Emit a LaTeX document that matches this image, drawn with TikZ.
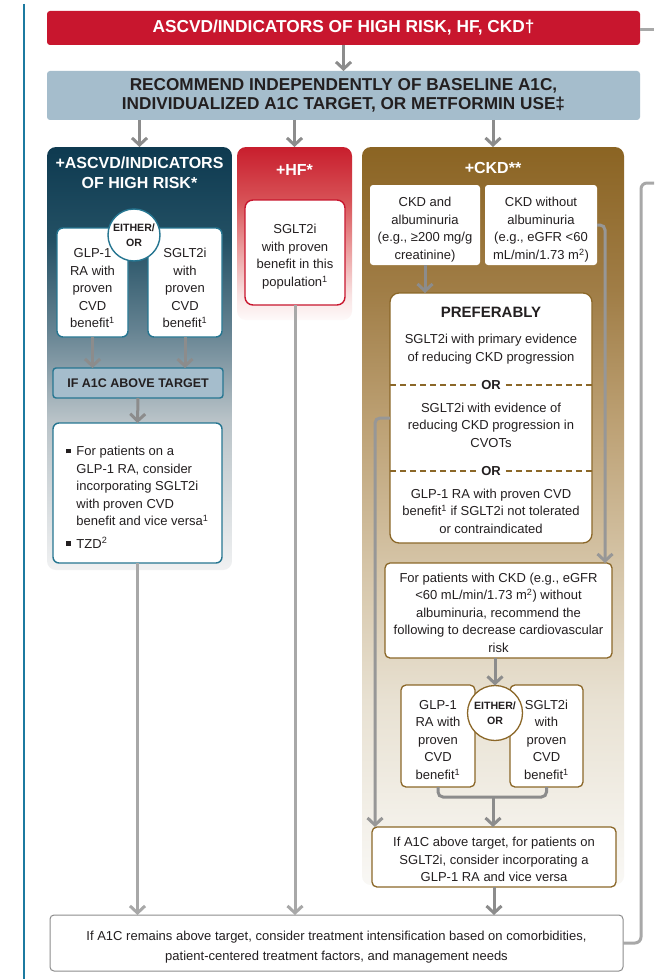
\documentclass[tikz,border=0pt]{standalone}
\usepackage{fontspec}
\setmainfont{Liberation Sans}
\usetikzlibrary{arrows.meta}

\definecolor{hred}{RGB}{200,22,46}
\definecolor{hblue}{RGB}{165,189,204}
\definecolor{navy}{RGB}{14,58,80}
\definecolor{tealb}{RGB}{38,118,145}
\definecolor{brownb}{RGB}{139,103,40}
\definecolor{agray}{RGB}{140,140,140}
\definecolor{lgray}{RGB}{168,168,168}
\definecolor{vblue}{RGB}{28,122,160}
\definecolor{txt}{RGB}{35,31,32}
\definecolor{lpa}{RGB}{35,80,100}
\definecolor{lpb}{RGB}{100,130,145}
\definecolor{lpc}{RGB}{185,195,200}
\definecolor{lpd}{RGB}{240,241,242}
\definecolor{hfa}{RGB}{200,30,45}
\definecolor{hfb}{RGB}{215,80,85}
\definecolor{hfc}{RGB}{235,160,160}
\definecolor{hfd}{RGB}{248,225,225}
\definecolor{hfe}{RGB}{254,250,250}
\definecolor{cka}{RGB}{139,100,35}
\definecolor{ckb}{RGB}{160,125,70}
\definecolor{ckc}{RGB}{188,160,115}
\definecolor{ckd}{RGB}{212,195,165}
\definecolor{cke}{RGB}{232,225,210}
\definecolor{ckf}{RGB}{249,248,245}

\pgfdeclareverticalshading{lpsh}{100bp}{color(0bp)=(lpd); color(25bp)=(lpd); color(42.7bp)=(lpc); color(53.5bp)=(lpb); color(64bp)=(lpa); color(75bp)=(navy); color(100bp)=(navy)}
\pgfdeclareverticalshading{hfsh}{100bp}{color(0bp)=(hfe); color(25bp)=(hfe); color(32.5bp)=(hfd); color(45bp)=(hfc); color(60bp)=(hfb); color(75bp)=(hfa); color(100bp)=(hfa)}
\pgfdeclareverticalshading{cksh}{100bp}{color(0bp)=(ckf); color(25bp)=(ckf); color(37.5bp)=(cke); color(47bp)=(ckd); color(56.5bp)=(ckc); color(65.3bp)=(ckb); color(75bp)=(cka); color(100bp)=(cka)}

\newcommand\bul{\makebox[10pt][l]{\rule[2.5pt]{4.5pt}{4.5pt}}}
\newcommand\upr[1]{\rule{0pt}{#1pt}}

\tikzset{
  every node/.style={inner sep=0pt, outer sep=0pt, text=txt, align=center,
    font=\fontsize{13}{17.5}\selectfont},
  sz/.style 2 args={minimum width=#1pt, minimum height=#2pt},
  redbox/.style={fill=hred, rounded corners=3pt, text=white,
    font=\bfseries\fontsize{17.3}{19}\selectfont},
  bluebox/.style={fill=hblue, rounded corners=3pt,
    font=\bfseries\fontsize{17.2}{19}\selectfont},
  panel/.style={rounded corners=9pt, shade},
  ptitle/.style={text=white, font=\bfseries\fontsize{16}{20}\selectfont},
  tbox/.style={fill=white, draw=tealb, line width=1.4pt, rounded corners=6pt},
  rbox/.style={fill=white, draw=hred, line width=1.4pt, rounded corners=8pt},
  bbox/.style={fill=white, draw=brownb, line width=1.3pt, rounded corners=5pt},
  wbox/.style={fill=white, rounded corners=3pt},
  gbox/.style={fill=white, draw=agray, line width=1pt, rounded corners=4pt},
  iabox/.style={fill=hblue, draw=tealb, line width=1.4pt, rounded corners=3pt,
    font=\bfseries\fontsize{12.5}{15}\selectfont},
  tcirc/.style={circle, fill=white, draw=tealb, line width=1.4pt, minimum size=52pt,
    font=\bfseries\fontsize{10.6}{15}\selectfont},
  bcirc/.style={circle, fill=white, draw=brownb, line width=1.3pt, minimum size=55pt,
    font=\bfseries\fontsize{10.6}{15}\selectfont},
  orlab/.style={fill=white, inner xsep=5pt, inner ysep=1pt, font=\bfseries\fontsize{13}{15}\selectfont},
  dashln/.style={draw=brownb, line width=1.2pt, dash pattern=on 6pt off 4pt},
  arr/.style={draw=agray, line width=3pt, -{Straight Barb[length=7pt,width=15pt]}},
  arrl/.style={draw=lgray, line width=3pt, -{Straight Barb[length=7pt,width=15pt]}},
  conn/.style={draw=lgray, line width=3pt, rounded corners=6pt},
}

\begin{document}
\begin{tikzpicture}[x=1pt,y=-1pt]
\useasboundingbox (0,0) rectangle (654,979);
\fill[white] (0,0) rectangle (654,979);

% left rule
\coordinate (vl1) at (24,4);
\coordinate (vl2) at (24,979);
\draw[vblue, line width=2pt] (vl1) -- (vl2);

% header boxes
\node[redbox, sz={593}{34}] (top) at (343.5,28) {ASCVD/INDICATORS OF HIGH RISK, HF, CKD†};
\node[bluebox, sz={593}{49}] (rec) at (343.5,95.5) {RECOMMEND INDEPENDENTLY OF BASELINE A1C,\\INDIVIDUALIZED A1C TARGET, OR METFORMIN USE‡};
\draw[arr] (top.south) -- (rec.north);

% panels
\node[panel, shading=lpsh, sz={185}{423}] (lp) at (139.5,358.5) {};
\node[panel, shading=hfsh, sz={115}{173}] (hp) at (294.5,233.5) {};
\node[panel, shading=cksh, sz={262}{738}] (cp) at (493,516) {};

\draw[arr] (rec.south -| lp) -- (lp.north);
\draw[arr] (rec.south -| hp) -- (hp.north);
\draw[arr] (rec.south -| cp) -- (cp.north);

% ---------- ASCVD column
\node[ptitle] (lpt) at (139.5,173) {+ASCVD/INDICATORS\\OF HIGH RISK*};
\node[tbox, sz={71}{109}] (lg) at (92.5,282.5) {\upr{21}GLP-1\\RA with\\proven\\CVD\\benefit\textsuperscript{1}};
\node[tbox, sz={74}{109}] (ls) at (185,282.5) {\upr{21}SGLT2i\\with\\proven\\CVD\\benefit\textsuperscript{1}};
\node[tcirc] (lc) at (134,235) {EITHER/\\OR};
\node[iabox, sz={170}{30}] (ia) at (138,383) {IF A1C ABOVE TARGET};
\draw[arr] (lg.south) -- (lg.south |- ia.north);
\draw[arr] (ls.south) -- (ls.south |- ia.north);
\node[tbox, sz={169}{140}, align=left] (bb) at (137.5,493) {\upr{18}\bul For patients on a\\
\makebox[10pt]{}GLP-1 RA, consider\\
\makebox[10pt]{}incorporating SGLT2i\\
\makebox[10pt]{}with proven CVD\\
\makebox[10pt]{}benefit and vice versa\textsuperscript{1}\\[5pt]
\bul TZD\textsuperscript{2}};
\draw[arr] (ia.south) -- (bb.north);

% ---------- HF column
\node[ptitle] (hpt) at (294.5,170) {+HF*};
\node[rbox, sz={100}{105}] (hb) at (295,252.5) {\upr{18}SGLT2i\\with proven\\benefit in this\\population\textsuperscript{1}};

% ---------- CKD column
\node[ptitle] (cpt) at (493,168) {+CKD**};
\node[wbox, sz={110}{80}] (ka) at (425,225) {\upr{19}CKD and\\albuminuria\\(e.g., ≥200 mg/g\\creatinine)};
\node[wbox, sz={112}{80}] (kb) at (541,225) {\upr{19}CKD without\\albuminuria\\(e.g., eGFR <60\\mL/min/1.73 m\textsuperscript{2})};

\node[bbox, rounded corners=9pt, sz={202}{250}] (pb) at (491,418) {};
\node[font=\bfseries\fontsize{15}{17}\selectfont] (pref) at (491,312) {PREFERABLY};
\node (p1) at (491,349) {SGLT2i with primary evidence\\of reducing CKD progression};
\node[orlab] (or1) at (491,385) {OR};
\draw[dashln] (pb.west |- or1) -- (or1.west);
\draw[dashln] (or1.east) -- (pb.east |- or1);
\node (p2) at (491,425) {SGLT2i with evidence of\\reducing CKD progression in\\CVOTs};
\node[orlab] (or2) at (491,471) {OR};
\draw[dashln] (pb.west |- or2) -- (or2.west);
\draw[dashln] (or2.east) -- (pb.east |- or2);
\node (p3) at (491,511) {GLP-1 RA with proven CVD\\benefit\textsuperscript{1} if SGLT2i not tolerated\\or contraindicated};
\draw[arr] (ka.south) -- (ka.south |- pb.north);

\node[bbox, sz={227}{95}] (kc) at (498.5,610.5) {\upr{13.5}For patients with CKD (e.g., eGFR\\<60 mL/min/1.73 m\textsuperscript{2}) without\\albuminuria, recommend the\\following to decrease cardiovascular\\risk};

\node[bbox, sz={74}{102}] (kg) at (438,736) {\upr{17}GLP-1\\RA with\\proven\\CVD\\benefit\textsuperscript{1}};
\node[bbox, sz={73}{102}] (ks) at (546.5,736) {\upr{17}SGLT2i\\with\\proven\\CVD\\benefit\textsuperscript{1}};
\node[bcirc] (kcirc) at (495,713) {EITHER/\\OR};
\draw[arr] (kcirc |- kc.south) -- (kcirc.north);

\node[bbox, sz={244}{60}] (kd) at (494,857) {\upr{15}If A1C above target, for patients on\\SGLT2i, consider incorporating a\\GLP-1 RA and vice versa};

\coordinate (brm) at (493,797);
\draw[conn, draw=agray, rounded corners=5pt] (kg.south) |- (brm) -| (ks.south);
\draw[arr] (brm) -- (brm |- kd.north);

\coordinate (kbx) at (605,0);
\draw[arrl, draw=lgray!90!black, rounded corners=5pt] (kb.east) -| (kbx |- kc.north);
\coordinate (pbx) at (375,0);
\draw[arrl, draw=lgray!90!black, rounded corners=5pt] (pb.west) -| (pbx |- kd.north);

% ---------- bottom
\node[gbox, sz={573}{56}, font=\fontsize{13}{20}\selectfont] (bot) at (336.5,943) {\upr{17}If A1C remains above target, consider treatment intensification based on comorbidities,\\patient-centered treatment factors, and management needs};
\draw[arrl] (bb.south) -- (bb.south |- bot.north);
\draw[arrl] (hb.south) -- (hb.south |- bot.north);
\draw[arr] (kd.south) -- (kd.south |- bot.north);

% right connector
\coordinate (rtop) at (654,30);
\draw[conn] (top.east |- rtop) -- (rtop);
\coordinate (rin) at (654,183);
\coordinate (rx) at (641,0);
\draw[conn] (rin) -| (rx |- bot.east) -- (bot.east);
\end{tikzpicture}
\end{document}
